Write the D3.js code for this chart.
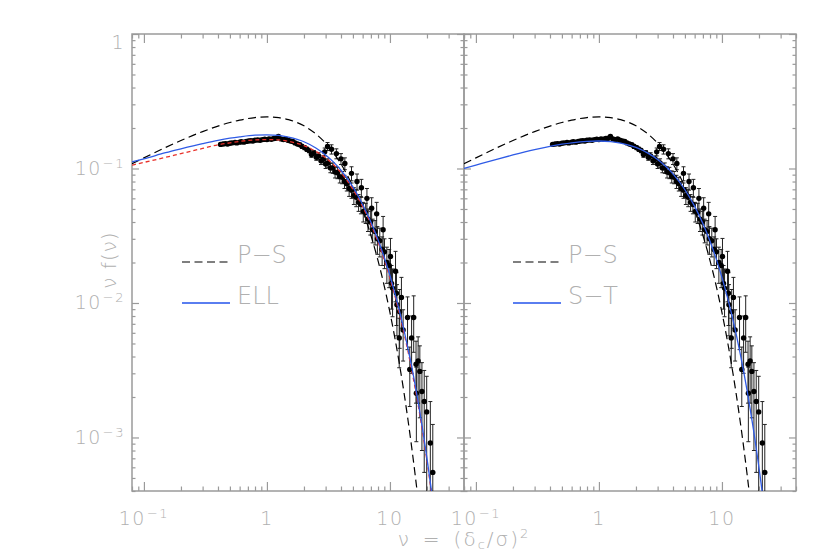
<!DOCTYPE html>
<html><head><meta charset="utf-8">
<script src="https://cdn.jsdelivr.net/npm/d3@7"></script>
<style>
body{margin:0;background:#fff;}
svg{display:block;}
text{font-family:"DejaVu Sans",sans-serif;font-weight:200;}
</style></head><body>
<svg id="chart" width="830" height="554"></svg>
<script>
// ---------- data ----------
const curveNu = [0.08,0.1,0.15,0.2,0.3,0.4,0.5,0.6,0.8,1.0,1.25,1.5,2,2.5,3,3.5,4,5,6,7,8,9,10,11,12,13,14,15,16,17,18,19,20,21,22,23];
const psCurve = [0.1084,0.1200,0.1433,0.1614,0.1881,0.2066,0.2197,0.2289,0.2392,0.2420,0.2387,0.2308,0.2076,0.1807,0.1542,0.1297,0.1080,0.0732,0.04865,0.03187,0.02067,0.01330,0.00850,0.00541,0.003426,0.002163,0.001361,0.000855,0.000535,0.000335,0.000209,0.000130,0.000081,0.000050,0.000031,0.000019];
const stCurve = [0.1001,0.1060,0.1175,0.1260,0.1380,0.1460,0.1515,0.1553,0.1593,0.1601,0.1583,0.1544,0.1433,0.1301,0.1166,0.1034,0.0911,0.0695,0.0523,0.0390,0.0288,0.0212,0.01551,0.01130,0.00822,0.00596,0.00431,0.00311,0.00224,0.00161,0.00116,0.000832,0.000596,0.000427,0.000306,0.000219];
const ellCurve = [0.112,0.118,0.131,0.140,0.153,0.162,0.168,0.172,0.177,0.178,0.176,0.171,0.158,0.142,0.126,0.111,0.097,0.073,0.054,0.040,0.0295,0.0218,0.0160,0.0117,0.0086,0.0063,0.0046,0.0034,0.00248,0.00181,0.00132,0.00096,0.00070,0.00051,0.00037,0.00027];
const redCurve = [0.106,0.111,0.121,0.129,0.141,0.150,0.155,0.159,0.163,0.164,0.163,0.159,0.148,0.134,0.120,0.106,0.093,0.070,0.052,0.0385,0.0284,0.0209,0.0153,0.0112,0.0082,0.0060,0.0044,0.0032,0.00235,0.00172,0.00126,0.00092,0.00067,0.00049,0.00036,0.00026];

const nuData = [0.42,0.44,0.46,0.48,0.50,0.52,0.55,0.57,0.60,0.62,0.65,0.68,0.71,0.74,0.77,0.80,0.84,0.88,0.92,0.96,1.00,1.04,1.09,1.14,1.19,1.24,1.30,1.36,1.42,1.48,1.55,1.62,1.69,1.77,1.85,1.93,2.02,2.11,2.20,2.30,2.41,2.52,2.63,2.75,2.87,3.00,3.14,3.28,3.43,3.58,3.74,3.91,4.09,4.27,4.46,4.66,4.87,5.09,5.32,5.56,5.81,6.07,6.35,6.63,6.93,7.24,7.57,7.91,8.27,8.64,9.03,9.44,9.86,
  2.95,3.11,3.35,3.67,4.0,4.3,4.87,5.4,5.86,6.5,7.1,7.8,8.8,10.1,11.1,
  10.3,10.5,11.3,11.4,12.0,12.4,11.9,12.8,13.9,15.6,15.0,14.5,16.3,16.95,17.5,16.4,18.2,19.0,19.9,21.3,22.3];
const fData = [0.151,0.152,0.153,0.152,0.154,0.155,0.156,0.155,0.157,0.158,0.157,0.159,0.160,0.161,0.160,0.162,0.163,0.162,0.164,0.165,0.164,0.166,0.165,0.167,0.168,0.173,0.166,0.164,0.166,0.162,0.160,0.159,0.155,0.152,0.150,0.146,0.143,0.139,0.136,0.127,0.130,0.121,0.124,0.114,0.117,0.108,0.110,0.101,0.101,0.094,0.093,0.087,0.086,0.080,0.077,0.071,0.069,0.063,0.061,0.056,0.054,0.048,0.047,0.042,0.040,0.035,0.034,0.030,0.029,0.025,0.024,0.020,0.019,
  0.133,0.146,0.139,0.129,0.118,0.109,0.092,0.080,0.072,0.060,0.0506,0.046,0.035,0.0222,0.0172,
  0.0140,0.0129,0.0118,0.0097,0.0086,0.0110,0.0055,0.0063,0.0078,0.0078,0.0055,0.0032,0.0035,0.0037,0.0031,0.00213,0.0022,0.00185,0.00155,0.00091,0.00055];
const errData = [0.003,0.003,0.003,0.003,0.003,0.003,0.003,0.003,0.003,0.003,0.003,0.003,0.003,0.003,0.003,0.003,0.003,0.003,0.003,0.003,0.003,0.003,0.003,0.004,0.004,0.004,0.004,0.004,0.004,0.004,0.004,0.004,0.004,0.004,0.004,0.005,0.005,0.005,0.005,0.006,0.006,0.006,0.007,0.007,0.007,0.008,0.008,0.008,0.009,0.009,0.009,0.009,0.009,0.009,0.009,0.009,0.009,0.009,0.009,0.008,0.008,0.008,0.008,0.008,0.008,0.007,0.007,0.007,0.007,0.006,0.006,0.006,0.006,
  0.009,0.010,0.011,0.011,0.011,0.011,0.011,0.011,0.011,0.011,0.010,0.010,0.009,0.008,0.007,
  0.005,0.005,0.005,0.004,0.004,0.0045,0.0022,0.0026,0.0033,0.0035,0.0025,0.0015,0.0017,0.0019,0.0017,0.0012,0.0014,0.0013,0.0013,0.00094,0.0007];

const xTickValues = [0.1, 1, 10];
const xTickLabels = [["10","−1"],["1",""],["10",""]];
const yTickValues = [1, 0.1, 0.01, 0.001];
const yTickLabels = [["1",""],["10","−1"],["10","−2"],["10","−3"]];
const legendLeft = ["P−S","ELL"];
const legendRight = ["P−S","S−T"];

// ---------- layout ----------
const svg = d3.select("#chart");
const Y0 = 34, Y1 = 491;
const axisCol = "#9a9a9a", textCol = "#b0b0b0";
const yS = d3.scaleLog().domain([4e-4, 1]).range([Y1, Y0]);
const isMajor = v => Math.abs(Math.log10(v) - Math.round(Math.log10(v))) < 1e-6;

const panels = [
  {x0:132, x1:464, blue:ellCurve, red:redCurve, legend:legendLeft, lx:182, labels:true},
  {x0:464, x1:796, blue:stCurve, red:null, legend:legendRight, lx:513, labels:false}
];

panels.forEach((p, pi) => {
  const xS = d3.scaleLog().domain([0.08, 40]).range([p.x0, p.x1]);
  const g = svg.append("g");
  const cid = "clip" + pi;
  svg.append("defs").append("clipPath").attr("id", cid)
    .append("rect").attr("x", p.x0).attr("y", Y0).attr("width", p.x1 - p.x0).attr("height", Y1 - Y0);

  const xMinor = xS.ticks().filter(v => !isMajor(v));
  const yMinor = yS.ticks().filter(v => !isMajor(v));

  function styleAxis(sel){
    sel.select(".domain").remove();
    sel.selectAll("line").attr("stroke", axisCol).attr("stroke-width", 1.2);
  }
  [[d3.axisBottom, Y1], [d3.axisTop, Y0]].forEach(([ax, yy]) => {
    g.append("g").attr("transform", `translate(0,${yy})`)
      .call(ax(xS).tickValues(xTickValues).tickSizeInner(-9).tickSizeOuter(0).tickFormat("")).call(styleAxis);
    g.append("g").attr("transform", `translate(0,${yy})`)
      .call(ax(xS).tickValues(xMinor).tickSizeInner(-4.5).tickSizeOuter(0).tickFormat("")).call(styleAxis);
  });
  [[d3.axisLeft, p.x0], [d3.axisRight, p.x1]].forEach(([ax, xx]) => {
    g.append("g").attr("transform", `translate(${xx},0)`)
      .call(ax(yS).tickValues(yTickValues).tickSizeInner(-7).tickSizeOuter(0).tickFormat("")).call(styleAxis);
    g.append("g").attr("transform", `translate(${xx},0)`)
      .call(ax(yS).tickValues(yMinor).tickSizeInner(-3.5).tickSizeOuter(0).tickFormat("")).call(styleAxis);
  });
  g.append("rect").attr("x", p.x0).attr("y", Y0).attr("width", p.x1 - p.x0).attr("height", Y1 - Y0)
    .attr("fill", "none").attr("stroke", axisCol).attr("stroke-width", 1.5);

  xTickValues.forEach((v, i) => {
    const t = g.append("text").attr("x", xS(v)).attr("y", 525).attr("text-anchor", "middle")
      .attr("fill", textCol).attr("font-size", 19).attr("letter-spacing", 1.5);
    t.append("tspan").text(xTickLabels[i][0]);
    if (xTickLabels[i][1]) t.append("tspan").attr("dx", 1).attr("dy", -7).attr("font-size", 13).text(xTickLabels[i][1]);
  });
  if (p.labels) {
    yTickValues.forEach((v, i) => {
      const ty = yS(v);
      const t = g.append("text").attr("x", 125).attr("y", Math.max(ty + 6.5, 49)).attr("text-anchor", "end")
        .attr("fill", textCol).attr("font-size", 19).attr("letter-spacing", 1.5);
      t.append("tspan").text(yTickLabels[i][0]);
      if (yTickLabels[i][1]) t.append("tspan").attr("dx", 1).attr("dy", -7).attr("font-size", 13).text(yTickLabels[i][1]);
    });
  }

  const dg = g.append("g").attr("clip-path", `url(#${cid})`);
  nuData.forEach((nu, i) => {
    const f = fData[i], e = errData[i];
    const xx = xS(nu);
    const yt = yS(f + e);
    const lo = f - e;
    const yb = lo > 0 ? yS(lo) : Y1 + 20;
    dg.append("line").attr("x1", xx).attr("x2", xx).attr("y1", yt).attr("y2", yb)
      .attr("stroke", "#222").attr("stroke-width", 1);
    dg.append("line").attr("x1", xx - 2).attr("x2", xx + 2).attr("y1", yt).attr("y2", yt)
      .attr("stroke", "#222").attr("stroke-width", 1);
    if (lo > 0) dg.append("line").attr("x1", xx - 2).attr("x2", xx + 2).attr("y1", yb).attr("y2", yb)
      .attr("stroke", "#222").attr("stroke-width", 1);
  });
  nuData.forEach((nu, i) => {
    dg.append("circle").attr("cx", xS(nu)).attr("cy", yS(fData[i])).attr("r", 2.7).attr("fill", "#000");
  });

  const line = d3.line().x(d => xS(d[0])).y(d => yS(d[1])).curve(d3.curveMonotoneX);
  const pts = arr => curveNu.map((n, i) => [n, arr[i]]);
  dg.append("path").attr("d", line(pts(psCurve))).attr("fill", "none")
    .attr("stroke", "#000").attr("stroke-width", 1.2).attr("stroke-dasharray", "8,4.5");
  if (p.red) dg.append("path").attr("d", line(pts(p.red))).attr("fill", "none")
    .attr("stroke", "#e8302a").attr("stroke-width", 1.3).attr("stroke-dasharray", "4,3");
  dg.append("path").attr("d", line(pts(p.blue))).attr("fill", "none")
    .attr("stroke", "#2f5be6").attr("stroke-width", 1.3);

  g.append("line").attr("x1", p.lx).attr("x2", p.lx + 48).attr("y1", 262).attr("y2", 262)
    .attr("stroke", "#000").attr("stroke-width", 1.2).attr("stroke-dasharray", "8,4.5");
  g.append("line").attr("x1", p.lx).attr("x2", p.lx + 48).attr("y1", 303).attr("y2", 303)
    .attr("stroke", "#5a7ef0").attr("stroke-width", 1.8);
  g.append("text").attr("x", p.lx + 55).attr("y", 263).attr("fill", textCol).attr("font-size", 24).text(p.legend[0]);
  g.append("text").attr("x", p.lx + 55).attr("y", 304).attr("fill", textCol).attr("font-size", 24).text(p.legend[1]);
});

const tt = svg.append("text").attr("x", 464).attr("y", 546).attr("text-anchor", "middle")
  .attr("fill", textCol).attr("font-size", 20).attr("letter-spacing", 2);
tt.append("tspan").text("ν");
tt.append("tspan").attr("dx", 12).text("=");
tt.append("tspan").attr("dx", 12).text("(δ");
tt.append("tspan").attr("dy", 3).attr("font-size", 13).text("c");
tt.append("tspan").attr("dy", -3).text("/σ)");
tt.append("tspan").attr("dy", -8).attr("font-size", 13).text("2");

svg.append("text").attr("transform", "translate(116,260) rotate(-90)").attr("text-anchor", "middle")
  .attr("fill", textCol).attr("font-size", 20).attr("letter-spacing", 1).text("ν f(ν)");
</script>
</body></html>
